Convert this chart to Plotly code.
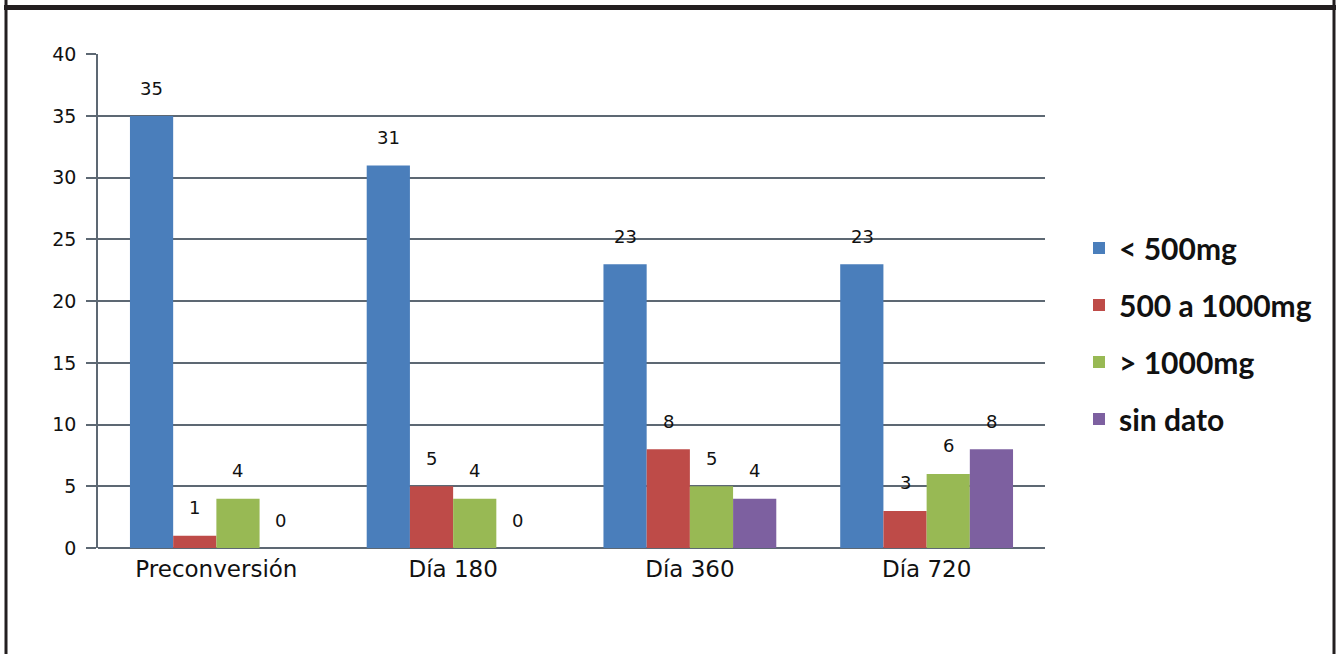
import plotly.graph_objects as go

categories = ["Preconversión", "Día 180", "Día 360", "Día 720"]
series_names = ["< 500mg", "500 a 1000mg", "> 1000mg", "sin dato"]
v_lt500 = [35, 31, 23, 23]
v_500_1000 = [1, 5, 8, 3]
v_gt1000 = [4, 4, 5, 6]
v_sindato = [0, 0, 4, 8]
colors = ["#4a7ebb", "#be4b48", "#98b954", "#7d60a0"]

all_values = [v_lt500, v_500_1000, v_gt1000, v_sindato]

fig = go.Figure()
for i, (name, vals, col) in enumerate(zip(series_names, all_values, colors)):
    fig.add_trace(go.Bar(x=categories, y=vals, name=name, marker_color=col,
                         marker_line_width=0, legendgroup=f"g{i}"))

# value labels above bars
offsets = [-64.5, -21.5, 21.5, 64.5]
for i, vals in enumerate(all_values):
    for c, v in zip(categories, vals):
        fig.add_annotation(x=c, y=v, text=str(v), showarrow=False,
                           xshift=offsets[i], yshift=28,
                           font=dict(family="DejaVu Sans", size=18, color="#111"))

L, R, T, B = 98, 1045, 54, 548
W, H = R - L, B - T
def px(x): return (x - L) / W
def py(y): return (B - y) / H

border = "#231f20"
fig.add_shape(type="line", xref="paper", yref="paper", x0=px(4), x1=px(1336),
              y0=py(7.5), y1=py(7.5), line=dict(color=border, width=5))
fig.add_shape(type="line", xref="paper", yref="paper", x0=px(6), x1=px(6),
              y0=py(0), y1=py(654), line=dict(color=border, width=3))
fig.add_shape(type="line", xref="paper", yref="paper", x0=px(1334), x1=px(1334),
              y0=py(0), y1=py(654), line=dict(color=border, width=3))

grid = "#5d6873"
fig.update_layout(
    width=1340, height=654,
    margin=dict(l=L, r=1340 - R, t=T, b=654 - B),
    paper_bgcolor="white", plot_bgcolor="white",
    barmode="group", bargap=0.27, bargroupgap=0,
    font=dict(family="DejaVu Sans", size=18, color="#111"),
    legend=dict(x=px(1079), y=py(222), xanchor="left", yanchor="top",
                font=dict(family="Lato", size=30, color="#111", weight="bold"),
                tracegroupgap=15, itemsizing="constant",
                bgcolor="rgba(0,0,0,0)"),
    showlegend=True,
)
fig.update_yaxes(range=[0, 40.03], dtick=5, showgrid=True, gridcolor=grid,
                 gridwidth=1.5, showline=True, linecolor=grid, linewidth=1.5,
                 ticks="outside", ticklen=10, tickcolor=grid, tickwidth=1.5,
                 ticklabelstandoff=6,
                 tickfont=dict(family="DejaVu Sans", size=19, color="#111"),
                 zeroline=True, zerolinecolor=grid, zerolinewidth=1.5)
fig.update_xaxes(showline=False, ticks="", showgrid=False, ticklabelstandoff=5,
                 tickfont=dict(family="DejaVu Sans", size=23, color="#111"))

fig.write_html("out.html")
